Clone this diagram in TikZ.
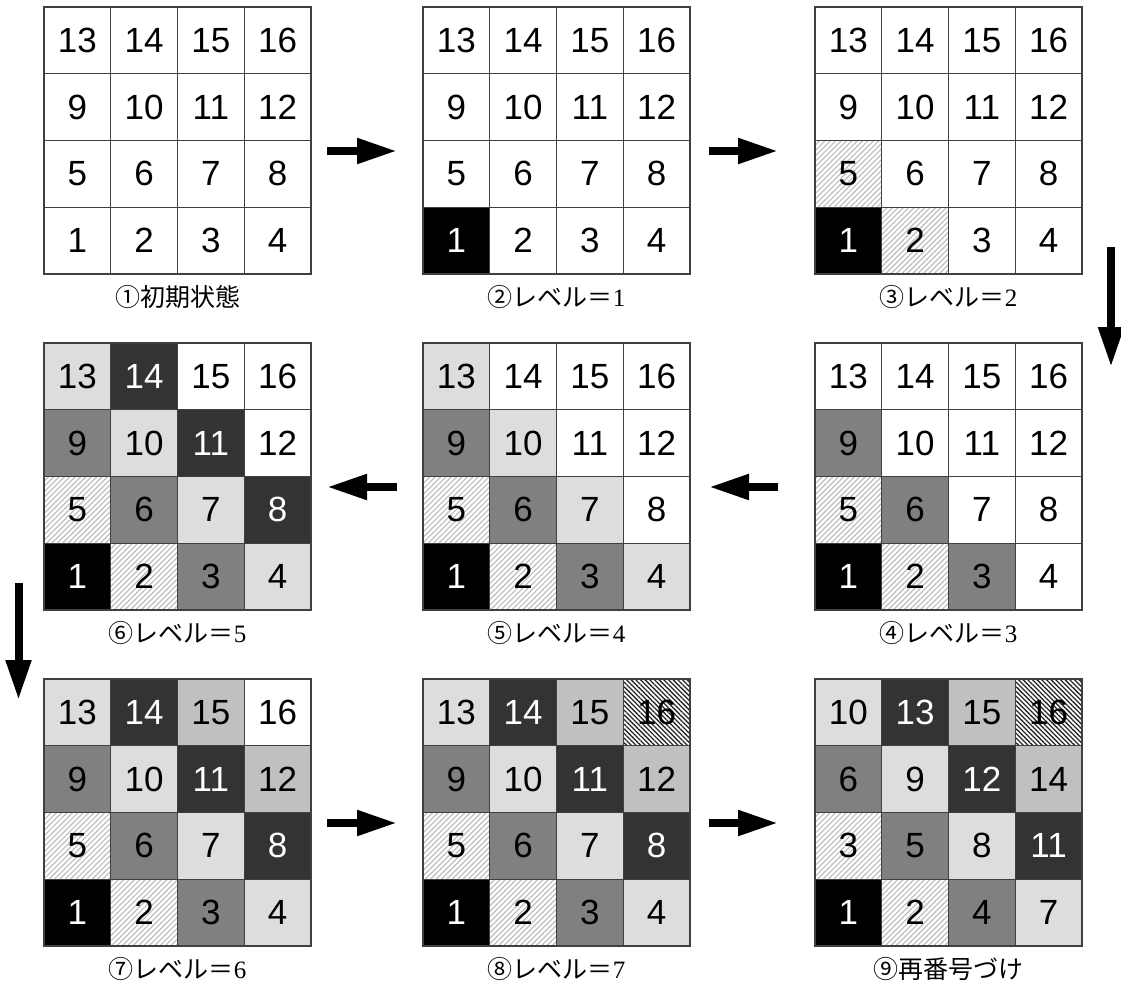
\documentclass[tikz,border=0pt]{standalone}
\usepackage{fontspec}
\setmainfont{Liberation Sans}
\newfontfamily\jpfont{Noto Sans CJK JP}
\newfontfamily\serdig{Liberation Serif}
\usetikzlibrary{arrows.meta,patterns.meta}
\definecolor{cdark}{HTML}{333333}
\definecolor{cmid}{HTML}{808080}
\definecolor{clight}{HTML}{DDDDDD}
\definecolor{csilver}{HTML}{C0C0C0}
\definecolor{cline}{HTML}{404040}
\definecolor{chatch}{HTML}{BDBDBD}
\definecolor{chatchd}{HTML}{262626}
\tikzset{
 gridcell/.style={draw=cline, line width=1.2pt, minimum size=66.75pt, inner sep=0pt,
   font=\fontsize{35}{35}\selectfont},
 lv0/.style={fill=black, text=white},
 lv1/.style={pattern={Lines[angle=45,distance=3.8pt,line width=1.2pt]}, pattern color=chatch},
 lv2/.style={fill=cmid},
 lv3/.style={fill=clight},
 lv4/.style={fill=cdark, text=white},
 lv5/.style={fill=csilver},
 lv6/.style={pattern={Lines[angle=-45,distance=3.3pt,line width=1.3pt]}, pattern color=chatchd},
 lvnone/.style={},
 gridlabel/.style={font=\jpfont\fontsize{25}{25}\selectfont, inner sep=0pt},
 bigarrow/.style={line width=8pt, -{Triangle[length=40pt,width=24pt]}},
}
\begin{document}
\begin{tikzpicture}[x=1pt,y=-1pt]
\useasboundingbox (0,0) rectangle (1121,982);
\foreach \k/\gx/\gy/\lab in {
  1/44/7/{①初期状態},
  2/423/7/{②レベル＝{\serdig 1}},
  3/815/7/{③レベル＝{\serdig 2}},
  4/815/343/{④レベル＝{\serdig 3}},
  5/423/343/{⑤レベル＝{\serdig 4}},
  6/44/343/{⑥レベル＝{\serdig 5}},
  7/44/679/{⑦レベル＝{\serdig 6}},
  8/423/679/{⑧レベル＝{\serdig 7}},
  9/815/679/{⑨再番号づけ}}{
  \foreach \r in {0,...,3}{
    \foreach \c in {0,...,3}{
      \pgfmathtruncatemacro\d{\c+\r}
      \ifnum\k=9
        \pgfmathtruncatemacro\n{{1,2,4,7,3,5,8,11,6,9,12,14,10,13,15,16}[4*\r+\c]}
      \else
        \pgfmathtruncatemacro\n{4*\r+\c+1}
      \fi
      \ifnum\d<\numexpr\k-1\relax
        \edef\st{lv\d}
      \else
        \edef\st{lvnone}
      \fi
      \pgfmathsetmacro\cx{\gx+66.75*\c+33.375}
      \pgfmathsetmacro\cy{\gy+66.75*(3-\r)+33.375}
      \node[gridcell,\st] (g\k-\c-\r) at (\cx,\cy) {\n};
    }
  }
  \pgfmathsetmacro\lx{\gx+133.5}
  \pgfmathsetmacro\ly{\gy+290}
  \node[gridlabel] (lab\k) at (\lx,\ly) {\lab};
}
\coordinate (a1s) at (327,151); \coordinate (a1e) at (397,151);
\coordinate (a2s) at (709,151); \coordinate (a2e) at (778,151);
\coordinate (a3s) at (1111,247); \coordinate (a3e) at (1111,367);
\coordinate (a4s) at (778,487); \coordinate (a4e) at (709,487);
\coordinate (a5s) at (397,487); \coordinate (a5e) at (327,487);
\coordinate (a6s) at (18.5,583); \coordinate (a6e) at (18.5,700);
\coordinate (a7s) at (327,823); \coordinate (a7e) at (397,823);
\coordinate (a8s) at (709,823); \coordinate (a8e) at (778,823);
\foreach \i in {1,...,8}{\draw[bigarrow] (a\i s) -- (a\i e);}
\end{tikzpicture}
\end{document}
